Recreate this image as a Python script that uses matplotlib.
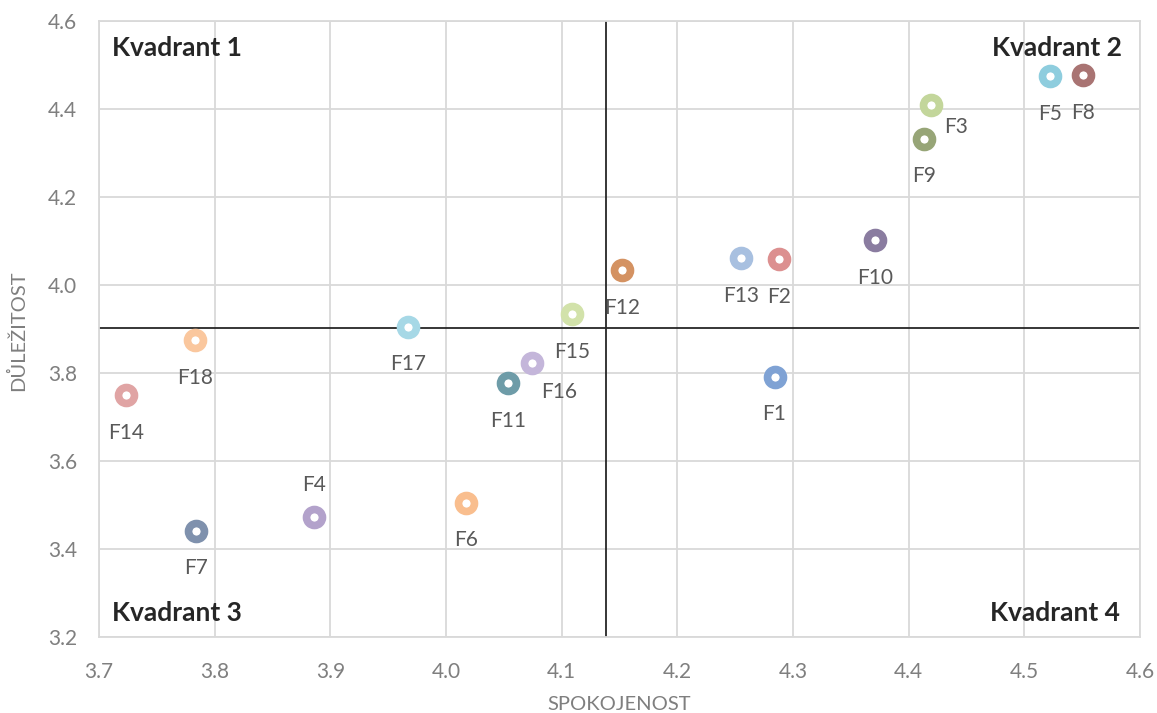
import matplotlib
matplotlib.use("Agg")
import matplotlib.pyplot as plt

labels = ["F1", "F2", "F3", "F4", "F5", "F6", "F7", "F8", "F9",
          "F10", "F11", "F12", "F13", "F14", "F15", "F16", "F17", "F18"]
spokojenost = [4.284, 4.288, 4.419, 3.886, 4.522, 4.017, 3.784, 4.551, 4.413,
               4.371, 4.054, 4.152, 4.255, 3.723, 4.109, 4.074, 3.967, 3.783]
dulezitost = [3.791, 4.059, 4.409, 3.473, 4.475, 3.505, 3.441, 4.477, 4.332,
              4.102, 3.777, 4.034, 4.061, 3.750, 3.934, 3.823, 3.905, 3.875]
colors = ["#7FA2D4", "#DC9090", "#C3D69B", "#B3A2CB", "#8ECDDE", "#F9BE8E",
          "#7F91AD", "#A97473", "#97A577", "#8A7CA0", "#6E9CA8", "#D49262",
          "#A8C0E0", "#E0A4A4", "#D2E2AA", "#C4B6DA", "#A6D8E6", "#FAC79E"]
mean_x = 4.138
mean_y = 3.902

plt.rcParams["font.family"] = ["Lato", "DejaVu Sans"]

fig = plt.figure(figsize=(11.57, 7.13), dpi=100)
ax = fig.add_axes([0.0856, 0.1066, 0.8997, 0.8639])

ax.set_xlim(3.7, 4.6)
ax.set_ylim(3.2, 4.6)
ax.set_xticks([3.7 + 0.1 * i for i in range(10)])
ax.set_yticks([3.2 + 0.2 * i for i in range(8)])
ax.xaxis.set_major_formatter(matplotlib.ticker.FormatStrFormatter("%.1f"))
ax.yaxis.set_major_formatter(matplotlib.ticker.FormatStrFormatter("%.1f"))
ax.grid(True, color="#D9D9D9", linewidth=1.3)
ax.set_axisbelow(True)
for s in ax.spines.values():
    s.set_color("#D9D9D9")
    s.set_linewidth(1.3)
ax.tick_params(length=0, labelsize=15, colors="#7F7F7F")
ax.tick_params(axis="x", pad=18)
ax.tick_params(axis="y", pad=16)

ax.axvline(mean_x, color="#262626", linewidth=1.3, zorder=2)
ax.axhline(mean_y, color="#262626", linewidth=1.3, zorder=2)

# label offsets in points (dx, dy)
offsets = {"F3": (10, -16), "F16": (7, -21), "F4": (0, 23)}
for lab, x, y, c in zip(labels, spokojenost, dulezitost, colors):
    ax.plot(x, y, "o", ms=11.5, mfc="white", mec=c, mew=5.5, zorder=3)
    dx, dy = offsets.get(lab, (0, -27))
    ha = "left" if dx > 5 else "center"
    ax.annotate(lab, (x, y), xytext=(dx, dy),
                textcoords="offset points", ha=ha, va="center",
                fontsize=15, color="#595959")

kw = dict(transform=ax.transAxes, fontsize=19, fontweight="bold", color="#262626")
ax.text(0.012, 0.975, "Kvadrant 1", ha="left", va="top", **kw)
ax.text(0.983, 0.975, "Kvadrant 2", ha="right", va="top", **kw)
ax.text(0.012, 0.02, "Kvadrant 3", ha="left", va="bottom", **kw)
ax.text(0.981, 0.02, "Kvadrant 4", ha="right", va="bottom", **kw)

fig.text(619 / 1157, 1 - 705 / 713, "SPOKOJENOST", fontsize=14.5, color="#7F7F7F",
         ha="center", va="center")
fig.text(18 / 1157, 1 - 331 / 713, "DŮLEŽITOST", fontsize=14.5, color="#7F7F7F",
         ha="center", va="center", rotation=90)

fig.savefig("out.png", dpi=100)
